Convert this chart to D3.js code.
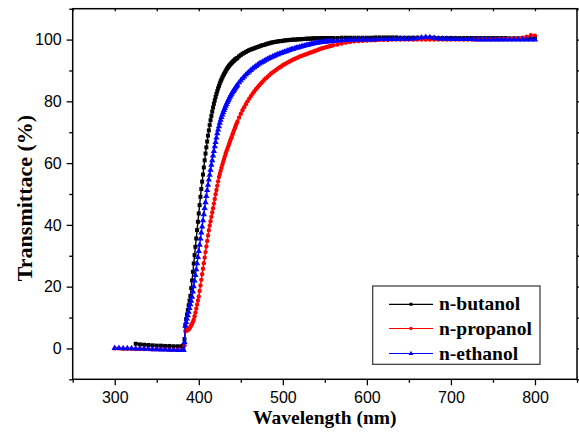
<!DOCTYPE html>
<html><head><meta charset="utf-8">
<script src="https://cdn.jsdelivr.net/npm/d3@7/dist/d3.min.js"></script>
<style>body{margin:0;background:#fff}svg{display:block}</style>
</head><body><svg id="c" width="579" height="433"></svg>
<script>
const wavelength = [300,305,310,315,320,325,330,335,340,345,350,355,360,365,370,375,380,
381,382,383,384,385,386,387,388,389,390,391,392,393,394,395,396,397,398,399,400,
401,402,403,404,405,406,407,408,409,410,411,412,413,414,415,416,417,418,419,420,
421,422,423,424,425,426,427,428,429,430,431,432,433,434,435,436,437,438,439,440,
441,442,443,444,445,
446,448,450,452,454,456,458,460,462,464,
466,468,470,472,474,476,478,480,482,484,
486,488,490,492,494,496,498,500,502,504,
506,508,510,512,514,516,518,520,522,524,
526,528,530,532,534,536,538,540,542,544,
546,548,550,552,554,556,558,560,
565,570,575,580,585,590,595,
600,605,610,615,620,625,630,635,640,645,
650,655,660,665,670,675,680,685,690,695,
700,705,710,715,720,725,730,735,740,745,
750,755,760,765,770,775,780,785,790,795,800];

const butanol = [null,null,null,null,null,1.5,1.3,1.2,1.1,1.0,0.9,0.9,0.8,0.8,0.7,0.7,0.7,
0.8,0.9,3.0,7.5,9.5,11.0,12.5,14.0,15.5,17.0,
19.5,22.0,24.8,27.5,30.2,32.9,35.6,38.3,41.0,43.7,
46.4,49.1,51.6,54.0,56.3,58.6,60.9,63.1,65.1,67.0,
68.9,70.6,72.3,73.9,75.3,76.7,78.0,79.2,80.3,81.4,
82.4,83.3,84.2,85.0,85.8,86.5,87.1,87.7,88.3,88.8,
89.3,89.8,90.3,90.7,91.1,91.5,91.8,92.1,92.4,92.7,
93.0,93.2,93.5,93.7,93.9,
94.1,94.6,95.0,95.4,95.7,96.0,96.3,96.6,96.8,97.0,
97.2,97.4,97.6,97.8,98.0,98.2,98.3,98.5,98.7,98.8,
99.0,99.1,99.2,99.3,99.4,99.5,99.5,99.6,99.7,99.8,
99.8,99.9,99.9,100.0,100.0,100.0,100.1,100.1,100.1,100.2,
100.2,100.3,100.3,100.3,100.3,100.4,100.4,100.4,100.4,100.4,
100.5,100.5,100.5,100.5,100.5,100.5,100.5,100.5,
100.5,100.6,100.6,100.6,100.6,100.6,100.6,
100.6,100.6,100.7,100.7,100.7,100.7,100.7,100.7,100.6,100.6,
100.6,100.6,100.6,100.6,100.6,100.6,100.6,100.5,100.5,100.5,
100.5,100.5,100.5,100.5,100.5,100.5,100.5,100.5,100.5,100.5,
100.5,100.5,100.5,100.5,100.4,100.4,100.4,100.4,100.4,100.4,
100.4];

const propanol = [0.0,0.0,-0.1,-0.1,-0.1,-0.2,-0.2,-0.2,-0.2,-0.3,-0.3,-0.3,-0.3,-0.4,-0.4,-0.4,-0.4,
-0.4,-0.4,1.0,5.6,5.7,5.8,6.0,6.2,6.5,7.0,
7.5,8.0,8.6,9.3,10.4,11.6,12.9,14.2,15.5,16.8,
18.6,20.4,22.2,24.0,25.8,27.6,29.4,31.2,33.0,34.8,
36.6,38.3,39.8,41.2,42.6,44.0,45.4,46.9,48.4,49.9,
51.3,52.7,54.1,55.5,56.5,57.5,58.5,59.5,60.4,61.3,
62.2,63.1,63.9,64.6,65.4,66.2,66.9,67.7,68.4,69.2,
69.9,70.7,71.4,72.1,72.8,
73.5,74.8,76.0,77.1,78.1,79.1,80.0,80.9,81.7,82.5,
83.2,83.9,84.6,85.2,85.8,86.4,87.0,87.5,88.0,88.5,
89.0,89.4,89.8,90.2,90.6,91.0,91.3,91.7,92.0,92.3,
92.6,92.9,93.2,93.5,93.7,94.0,94.2,94.5,94.7,94.9,
95.1,95.3,95.5,95.7,95.9,96.1,96.3,96.5,96.7,96.9,
97.1,97.3,97.4,97.6,97.7,97.9,98.0,98.2,
98.4,98.7,99.0,99.2,99.4,99.5,99.6,
99.7,99.8,99.8,99.9,99.9,99.9,100.0,100.0,100.0,100.0,
100.0,100.0,100.0,100.0,100.0,100.0,100.0,100.0,100.0,100.0,
100.0,100.0,100.0,100.0,100.0,100.0,100.1,100.1,100.1,100.1,
100.1,100.1,100.1,100.2,100.2,100.3,100.4,100.6,100.9,101.4,
101.3];

const ethanol = [0.1,0.1,0.0,0.0,0.0,-0.1,-0.1,-0.2,-0.2,-0.3,-0.3,-0.4,-0.4,-0.5,-0.5,-0.6,-0.6,
-0.6,-0.6,2.0,7.3,8.5,9.6,10.7,11.8,13.0,14.2,
15.4,16.7,18.4,20.1,21.9,23.7,25.6,27.5,29.5,31.5,
33.5,35.5,37.5,39.4,41.4,43.4,45.4,47.3,49.3,51.2,
52.9,54.6,56.2,57.8,59.4,60.9,62.4,63.9,65.4,66.8,
68.2,69.6,70.8,71.9,73.0,74.0,74.9,75.7,76.4,77.1,
77.8,78.5,79.1,79.7,80.3,80.9,81.4,81.9,82.4,82.9,
83.3,83.7,84.1,84.5,84.9,
85.3,86.1,86.8,87.4,88.0,88.6,89.1,89.6,90.1,90.6,
91.0,91.4,91.8,92.2,92.5,92.8,93.1,93.4,93.7,94.0,
94.2,94.5,94.7,95.0,95.2,95.4,95.6,95.8,96.0,96.2,
96.4,96.6,96.8,96.9,97.1,97.3,97.4,97.6,97.7,97.9,
98.0,98.2,98.3,98.4,98.6,98.7,98.8,98.9,99.0,99.1,
99.2,99.2,99.3,99.3,99.4,99.4,99.5,99.5,
99.6,99.7,99.8,99.9,99.9,100.0,100.0,
100.0,100.0,100.0,100.1,100.1,100.1,100.1,100.1,100.2,100.2,
100.2,100.3,100.4,100.6,100.8,100.7,100.5,100.3,100.2,100.2,
100.2,100.1,100.1,100.1,100.1,100.1,100.0,100.0,100.0,100.0,
100.0,100.0,100.0,100.0,100.0,100.0,100.0,100.0,100.0,100.0,
100.0];

const seriesNames = ["n-butanol", "n-propanol", "n-ethanol"];
const seriesColors = ["#000000", "#ff0000", "#0000ff"];
const seriesValues = [butanol, propanol, ethanol];
const xTicks = [300, 400, 500, 600, 700, 800];
const xMinor = [250, 350, 450, 550, 650, 750, 850];
const yTicks = [0, 20, 40, 60, 80, 100];
const yMinor = [-10, 10, 30, 50, 70, 90, 110];

const svg = d3.select("#c");
const L = 72.7, R = 577, T = 8.7, B = 379.3;
const x = d3.scaleLinear().domain([250, 850]).range([L, R]);
const y = d3.scaleLinear().domain([-10, 110]).range([B, T]);

const tickFont = "'Liberation Sans', Arial, sans-serif";
const titleFont = "'Liberation Serif', 'Times New Roman', serif";

svg.append("g").attr("transform", `translate(0,${B})`)
  .call(d3.axisBottom(x).tickValues(xTicks).tickSize(6).tickPadding(6).tickFormat(d3.format("d")));
svg.append("g").attr("transform", `translate(0,${B})`)
  .call(d3.axisBottom(x).tickValues(xMinor).tickSize(3.5).tickFormat(""));
svg.append("g").attr("transform", `translate(${L},0)`)
  .call(d3.axisLeft(y).tickValues(yTicks).tickSize(6).tickPadding(5).tickFormat(d3.format("d")));
svg.append("g").attr("transform", `translate(${L},0)`)
  .call(d3.axisLeft(y).tickValues(yMinor).tickSize(3.5).tickFormat(""));
svg.append("g").attr("transform", `translate(0,${T})`)
  .call(d3.axisBottom(x).tickValues(xTicks.concat(xMinor)).tickSize(2.5).tickFormat(""));
svg.append("g").attr("transform", `translate(${R},0)`)
  .call(d3.axisRight(y).tickValues(yTicks.concat(yMinor)).tickSize(3).tickFormat(""));

svg.selectAll(".domain").remove();
svg.selectAll(".tick line").attr("stroke", "#000").attr("stroke-width", 1.3);
svg.selectAll(".tick text").attr("font-family", tickFont).attr("font-size", 16).attr("fill", "#000");

svg.append("rect").attr("x", L).attr("y", T).attr("width", R - L).attr("height", B - T)
  .attr("fill", "none").attr("stroke", "#000").attr("stroke-width", 1.5);

svg.append("text").attr("x", (L + R) / 2).attr("y", 424).attr("text-anchor", "middle")
  .attr("font-family", titleFont).attr("font-weight", "bold").attr("font-size", 19.5)
  .text("Wavelength (nm)");
svg.append("text").attr("transform", `translate(32,198) rotate(-90)`)
  .attr("text-anchor", "middle")
  .attr("font-family", titleFont).attr("font-weight", "bold").attr("font-size", 22)
  .text("Transmittace (%)");

const symbols = [d3.symbol().type(d3.symbolSquare).size(16),
                 d3.symbol().type(d3.symbolCircle).size(15),
                 d3.symbol().type(d3.symbolTriangle).size(17)];

const plot = svg.append("g");
seriesValues.forEach((vals, i) => {
  const pts = wavelength.map((w, k) => [w, vals[k]]).filter(p => p[1] !== null);
  const line = d3.line().x(p => x(p[0])).y(p => y(p[1]));
  plot.append("path").attr("d", line(pts)).attr("fill", "none")
    .attr("stroke", seriesColors[i]).attr("stroke-width", 1.4);
  plot.append("g").selectAll("path").data(pts).join("path")
    .attr("transform", p => `translate(${x(p[0])},${y(p[1])})`)
    .attr("d", symbols[i]()).attr("fill", seriesColors[i]);
});

const lg = svg.append("g");
lg.append("rect").attr("x", 372.7).attr("y", 286).attr("width", 167.3).attr("height", 78.3)
  .attr("fill", "#fff").attr("stroke", "#333").attr("stroke-width", 1.2);
const rowsY = [304.3, 328.5, 353.5];
const legSym = [d3.symbol().type(d3.symbolSquare).size(9),
                d3.symbol().type(d3.symbolCircle).size(9),
                d3.symbol().type(d3.symbolTriangle).size(10)];
seriesNames.forEach((n, i) => {
  lg.append("line").attr("x1", 389).attr("x2", 433).attr("y1", rowsY[i]).attr("y2", rowsY[i])
    .attr("stroke", seriesColors[i]).attr("stroke-width", 1.2);
  lg.append("path").attr("transform", `translate(411,${rowsY[i]})`).attr("d", legSym[i]())
    .attr("fill", seriesColors[i]);
  lg.append("text").attr("x", 439).attr("y", rowsY[i] + 6)
    .attr("font-family", titleFont).attr("font-weight", "bold").attr("font-size", 19.5)
    .text(n);
});
</script></body></html>
